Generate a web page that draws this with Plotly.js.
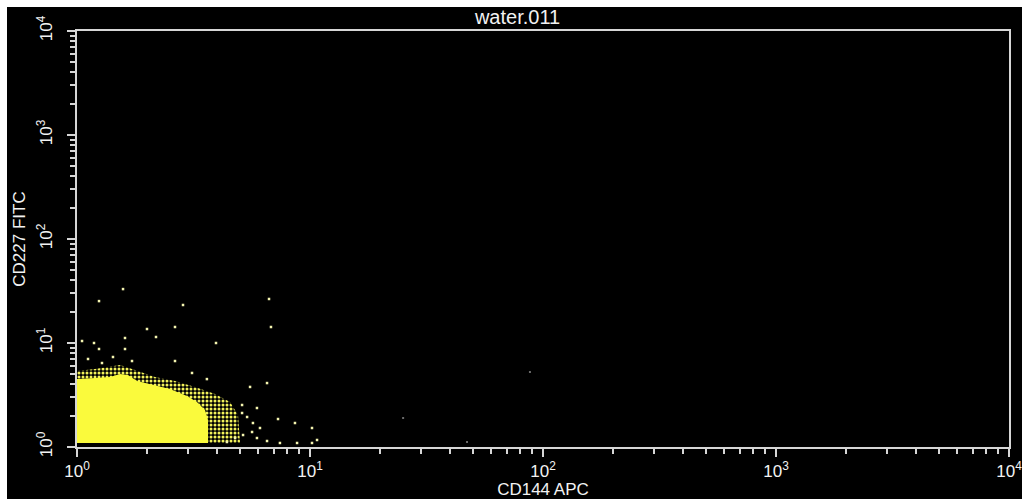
<!DOCTYPE html>
<html>
<head>
<meta charset="utf-8">
<script src="https://cdn.plot.ly/plotly-3.0.1.min.js"></script>
<style>
  html, body { margin: 0; padding: 0; background: #ffffff; width: 1022px; height: 499px; overflow: hidden; }
  #plot { position: absolute; left: 7px; top: 7px; width: 1015px; height: 492px; }
</style>
</head>
<body>
<div id="plot"></div>
<script>
// Dense core of the population (outline of the solid region)
const coreX = [1.0, 1.0, 1.195, 1.385, 1.529, 1.655, 1.810, 2.120, 2.507, 2.966, 3.273, 3.543, 3.650, 3.650];
const coreY = [1.093, 4.50, 4.61, 4.71, 5.03, 4.92, 4.31, 3.95, 3.61, 3.09, 2.71, 2.27, 1.82, 1.093];

// Speckled fringe around the core
const fringeX = [1.0, 1.0, 1.195, 1.529, 1.774, 2.161, 2.634, 3.209, 3.911, 4.536, 4.91, 5.01];
const fringeY = [1.093, 5.38, 5.62, 6.14, 5.50, 4.71, 4.31, 3.78, 3.23, 2.71, 2.03, 1.093];

// Isolated events
const eventX = [1.576, 1.243, 2.851, 6.67, 2.634, 6.80, 1.997, 1.051, 1.183, 1.607,
                2.183, 3.95, 1.243, 1.607, 1.427, 1.115, 1.722, 2.634, 1.280, 6.54,
                5.53, 3.61, 3.116, 5.11, 5.92, 7.29, 8.62, 10.2, 6.10, 5.64,
                5.92, 6.54, 7.43, 8.80, 10.2, 10.72, 5.37, 5.69, 5.11, 5.16,
                4.77, 4.40];
const eventY = [33.0, 25.3, 23.2, 26.5, 14.25, 14.25, 13.63, 10.45, 10.0, 11.17,
                11.42, 10.0, 8.757, 8.757, 7.335, 7.02, 6.71, 6.71, 6.42, 4.12,
                3.78, 4.50, 5.15, 2.535, 2.371, 1.858, 1.701, 1.523, 1.523, 1.394,
                1.22, 1.142, 1.093, 1.093, 1.093, 1.168, 1.943, 1.701, 2.123, 1.304,
                1.22, 1.117];

// Faint single events far out
const faintX = [87.9, 25.1, 47.2];
const faintY = [5.26, 1.90, 1.117];

// Axis decades and labels
const decades = [1, 10, 100, 1000, 10000];
const decadeLabels = ['10<sup>0</sup>', '10<sup>1</sup>', '10<sup>2</sup>', '10<sup>3</sup>', '10<sup>4</sup>'];

const minorVals = [];
for (let d = 0; d < 4; d++) {
  for (let m = 2; m <= 9; m++) minorVals.push(m * Math.pow(10, d));
}

const yellow = '#fafa3c';
const frame = '#d6d6d6';
const fontFamily = 'Liberation Sans, Arial, sans-serif';

const traces = [
  {
    type: 'scatter', mode: 'lines', x: fringeX, y: fringeY,
    fill: 'toself', fillcolor: 'rgba(0,0,0,0)',
    fillpattern: { shape: '.', fgcolor: '#f2f25a', bgcolor: 'rgba(0,0,0,0)', size: 4, solidity: 0.45 },
    line: { width: 0 }, hoverinfo: 'skip', showlegend: false
  },
  {
    type: 'scatter', mode: 'lines', x: coreX, y: coreY,
    fill: 'toself', fillcolor: yellow, line: { width: 0, color: yellow },
    hoverinfo: 'skip', showlegend: false
  },
  {
    type: 'scatter', mode: 'markers', x: eventX, y: eventY,
    marker: { symbol: 'square', size: 2.5, color: '#f4f4b0', line: { width: 0 } },
    showlegend: false
  },
  {
    type: 'scatter', mode: 'markers', x: faintX, y: faintY,
    marker: { symbol: 'square', size: 2, color: '#6a6a6a', line: { width: 0 } },
    showlegend: false
  }
];

const tickFont = { family: fontFamily, size: 17, color: '#f2f2f2' };

function axis(extra) {
  return Object.assign({
    type: 'log', range: [0, 4], autorange: false,
    showgrid: false, zeroline: false,
    showline: true, mirror: true, linecolor: frame, linewidth: 2,
    tickmode: 'array', tickvals: decades, ticktext: decadeLabels,
    ticks: 'outside', ticklen: 8, tickwidth: 2, tickcolor: frame,
    tickfont: tickFont, ticklabeloverflow: 'allow',
    minor: { tickmode: 'array', tickvals: minorVals, ticks: 'outside', ticklen: 5, tickwidth: 2, tickcolor: frame, showgrid: false },
    fixedrange: true
  }, extra);
}

const layout = {
  width: 1015, height: 492,
  paper_bgcolor: '#000000', plot_bgcolor: '#000000',
  margin: { l: 70, r: 13, t: 24, b: 52 },
  title: {
    text: 'water.011', x: 0.503, xanchor: 'center', y: 0.98, yanchor: 'middle',
    font: { family: fontFamily, size: 20, color: '#f2f2f2' }
  },
  xaxis: axis({
    title: { text: 'CD144 APC', standoff: 9, font: { family: fontFamily, size: 17, color: '#f2f2f2' } }
  }),
  yaxis: axis({
    tickangle: -90,
    ticklabelstandoff: 8,
    title: { text: 'CD227 FITC', standoff: 4, font: { family: fontFamily, size: 17, color: '#f2f2f2' } }
  }),
  showlegend: false
};

Plotly.newPlot('plot', traces, layout, { staticPlot: true, displayModeBar: false });
</script>
</body>
</html>
